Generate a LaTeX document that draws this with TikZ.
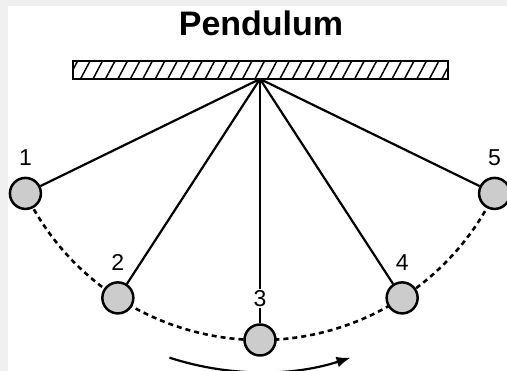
\documentclass[tikz,border=0pt]{standalone}
\usepackage{fontspec}
\setmainfont{Liberation Sans}
\usetikzlibrary{positioning,arrows.meta,patterns.meta}

\begin{document}
\begin{tikzpicture}[x=1pt, y=1pt, node distance=11pt,
  bar/.style={draw, line width=2pt, minimum width=375pt, minimum height=18pt,
              inner sep=0pt, pattern={Lines[angle=62, distance=11pt, line width=1.5pt]}},
  bob/.style={circle, draw, line width=2.5pt, fill=gray!40, minimum size=31pt, inner sep=0pt},
  rod/.style={line width=2.2pt},
  num/.style={font=\fontsize{23}{27}\selectfont, inner sep=0pt},
  path/.style={line width=2.6pt, dash pattern=on 5pt off 4pt},
  swing/.style={-{Latex[length=14pt, width=11pt]}, line width=2.2pt}]
\useasboundingbox (0,0) rectangle (507,371);
\fill[black!6] (0,0) rectangle (507,371);
\fill[white] (8,0) rectangle (507,365);
\node[font=\bfseries\fontsize{34}{40}\selectfont, anchor=base] (title) at (261,335) {Pendulum};
\node[bar] (ceiling) at (260.5,301) {};
\coordinate (pivot) at (260,292);
\draw[path] ([shift={(-154:261)}]pivot) arc[start angle=-154, end angle=-26, radius=261];
\node[bob] (b1) at ([shift={(-154:261)}]pivot) {};
\node[bob] (b2) at ([shift={(-123:261)}]pivot) {};
\node[bob] (b3) at ([shift={(-90:261)}]pivot) {};
\node[bob] (b4) at ([shift={(-57:261)}]pivot) {};
\node[bob] (b5) at ([shift={(-26:261)}]pivot) {};
\draw[rod] (pivot) -- (b1);
\draw[rod] (pivot) -- (b2);
\draw[rod] (pivot) -- (b3);
\draw[rod] (pivot) -- (b4);
\draw[rod] (pivot) -- (b5);
\node[num, above=11pt of b1] (n1) {1};
\node[num, above=10pt of b2] (n2) {2};
\node[num, above=15pt of b3, fill=white, inner sep=1.5pt] (n3) {3};
\node[num, above=10pt of b4] (n4) {4};
\node[num, above=11pt of b5] (n5) {5};
\draw[swing] ([shift={(-108:293)}]pivot) arc[start angle=-108, end angle=-72, radius=293];
\end{tikzpicture}
\end{document}
